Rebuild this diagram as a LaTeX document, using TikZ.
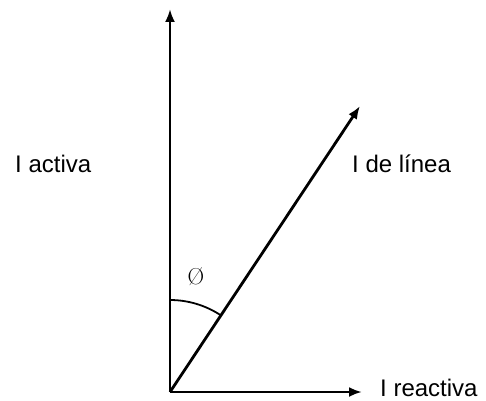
\documentclass[tikz,border=0pt]{standalone}
\usepackage{fontspec}
\setmainfont{Liberation Sans}
\usepackage{xcolor}
\usetikzlibrary{arrows.meta}
\definecolor{VectorInk}{RGB}{0,0,0}

\begin{document}
\begin{tikzpicture}[x=1pt,y=1pt,
    vec/.style={draw=VectorInk,line width=2.8pt,-{Latex[length=13pt,width=10pt]}},
    lbl/.style={anchor=base west,inner sep=0pt,font=\fontsize{24}{28}\selectfont}]
    \useasboundingbox (0,0) rectangle (486,400);
    \coordinate (O) at (170,8);
    \coordinate (Up) at (170,391);
    \coordinate (Right) at (362,8);
    \coordinate (Line) at (360,294);
    \draw[vec] (O) -- (Up);
    \draw[vec] (O) -- (Right);
    \draw[vec] (O) -- (Line);
    % angle between I activa and I de linea
    \draw[line width=1.8pt] ([shift={(90:92pt)}]O) arc (90:56.4:92pt);
    \node[lbl] (activa) at (15,228) {I activa};
    \node[lbl] (linea) at (352,228) {I de línea};
    \node[lbl] (reactiva) at (380,4) {I reactiva};
    \node[inner sep=0pt,font=\fontsize{23}{26}\selectfont\fontspec{Latin Modern Roman}] (phi) at (196,123) {Ø};
  \end{tikzpicture}
\end{document}
